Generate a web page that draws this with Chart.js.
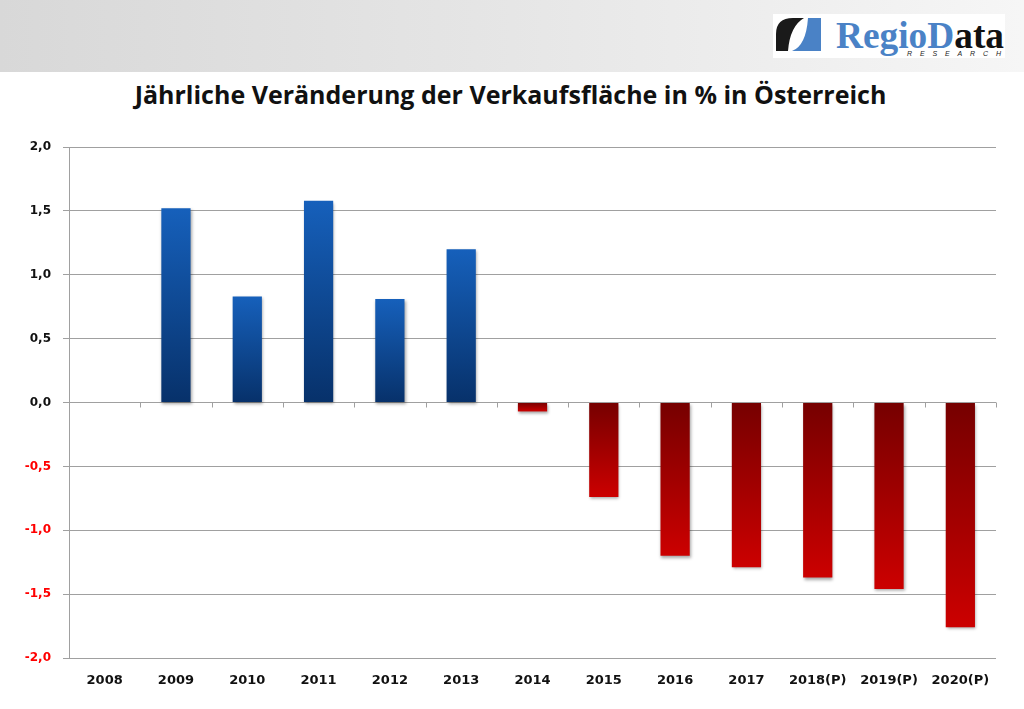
<!DOCTYPE html>
<html>
<head>
    <title>Jährliche Veränderung der Verkaufsfläche</title>
    <script src="https://cdn.jsdelivr.net/npm/chart.js"></script>
    <style>
        body { margin: 0; width: 1024px; height: 709px; overflow: hidden; background: #fff; position: relative; }
        #band { position: absolute; left: 0; top: 0; width: 1024px; height: 72px;
                background: linear-gradient(to right, #d8d8d8 0%, #e6e6e6 50%, #f6f6f6 100%); }
        #logo { position: absolute; left: 773px; top: 14px; width: 232px; height: 44px; background: #fff; }
        #title { position: absolute; left: 0; width: 1021px; top: 77px; text-align: center;
                 font-family: "Open Sans", sans-serif; font-weight: 700; font-size: 25px; color: #111; }
        #wrap { position: absolute; left: 0; top: 0; width: 1024px; height: 709px; }
    </style>
</head>
<body>
    <div id="band"></div>
    <div id="logo">
        <svg width="232" height="44" viewBox="0 0 232 44">
            <path d="M3 37 L3 20 Q3 4 20 4 L31 4 Q17 12 15 37 Z" fill="#1a1a1a"/>
            <path d="M35 4 L48 4 L48 37 L19 37 Q33 32 35 4 Z" fill="#4a82c6"/>
            <text x="63" y="34" font-family="Liberation Serif, serif" font-size="38" font-weight="bold"
                  textLength="168" lengthAdjust="spacingAndGlyphs"><tspan fill="#4a82c6">RegioD</tspan><tspan fill="#111">ata</tspan></text>
            <text x="134" y="42" font-family="Liberation Sans, sans-serif" font-size="7" font-style="italic"
                  fill="#222" textLength="94" lengthAdjust="spacing">RESEARCH</text>
        </svg>
    </div>
    <div id="title">Jährliche Veränderung der Verkaufsfläche in % in Österreich</div>
    <div id="wrap"><canvas id="myChart" width="1024" height="709"></canvas></div>
    <script>
        // Werte
        const years = ['2008', '2009', '2010', '2011', '2012', '2013', '2014', '2015', '2016', '2017', '2018(P)', '2019(P)', '2020(P)'];
        const changes = [0, 1.52, 0.83, 1.58, 0.81, 1.20, -0.07, -0.74, -1.20, -1.29, -1.37, -1.46, -1.76];
        const yTicks = [2.0, 1.5, 1.0, 0.5, 0.0, -0.5, -1.0, -1.5, -2.0];

        function barFill(context) {
            const chart = context.chart;
            const v = context.raw;
            const y = chart.scales.y;
            if (!chart.chartArea || !y) return v >= 0 ? '#1257a8' : '#a80000';
            const p0 = y.getPixelForValue(0);
            const p1 = y.getPixelForValue(v);
            if (Math.abs(p1 - p0) < 1) return v >= 0 ? '#1257a8' : '#c40000';
            const g = chart.ctx.createLinearGradient(0, Math.min(p0, p1), 0, Math.max(p0, p1));
            if (v >= 0) {
                g.addColorStop(0, '#1660bb');
                g.addColorStop(1, '#07316a');
            } else {
                g.addColorStop(0, '#760000');
                g.addColorStop(1, '#cc0000');
            }
            return g;
        }

        // kleine Striche an der Nulllinie zwischen den Kategorien
        const zeroTicks = {
            id: 'zeroTicks',
            afterDatasetsDraw(chart) {
                const ctx = chart.ctx;
                const x = chart.scales.x;
                const y0 = chart.scales.y.getPixelForValue(0);
                const step = (chart.chartArea.right - chart.chartArea.left) / years.length;
                ctx.save();
                ctx.strokeStyle = '#a0a0a0';
                ctx.lineWidth = 1;
                for (let i = 0; i <= years.length; i++) {
                    const px = Math.round(x.getPixelForValue(0) - step / 2 + i * step) + 0.5;
                    ctx.beginPath();
                    ctx.moveTo(px, y0);
                    ctx.lineTo(px, y0 + 5);
                    ctx.stroke();
                }
                ctx.restore();
            }
        };

        const barShadow = {
            id: 'barShadow',
            beforeDatasetsDraw(chart) {
                const ctx = chart.ctx;
                ctx.save();
                ctx.shadowColor = 'rgba(0,0,0,0.35)';
                ctx.shadowBlur = 3;
                ctx.shadowOffsetX = 1;
                ctx.shadowOffsetY = 2;
            },
            afterDatasetsDraw(chart) {
                chart.ctx.restore();
            }
        };

        const ctx = document.getElementById('myChart').getContext('2d');
        const myChart = new Chart(ctx, {
            type: 'bar',
            data: {
                labels: years,
                datasets: [{
                    label: 'Veränderung in %',
                    data: changes,
                    backgroundColor: barFill,
                    borderWidth: 0,
                    barPercentage: 0.41,
                    categoryPercentage: 1.0
                }]
            },
            options: {
                responsive: false,
                animation: false,
                layout: { padding: { left: 0, right: 28, top: 147, bottom: 0 } },
                plugins: {
                    legend: { display: false },
                    tooltip: { enabled: false }
                },
                scales: {
                    x: {
                        afterFit(scale) { scale.height = 51; },
                        grid: { display: false },
                        border: { display: false },
                        ticks: {
                            color: '#111',
                            padding: 7,
                            maxRotation: 0,
                            autoSkip: false,
                            font: { family: 'DejaVu Sans', weight: 'bold', size: 13 }
                        }
                    },
                    y: {
                        min: -2,
                        max: 2,
                        afterFit(scale) { scale.width = 69; },
                        afterBuildTicks(scale) { scale.ticks = yTicks.map(v => ({ value: v })); },
                        grid: { color: '#a0a0a0', lineWidth: 1, tickLength: 6 },
                        border: { display: true, color: '#a0a0a0' },
                        ticks: {
                            padding: 12,
                            callback: v => v.toFixed(1).replace('.', ','),
                            color: c => c.tick.value < 0 ? '#ff0000' : '#111',
                            font: { family: 'DejaVu Sans', weight: 'bold', size: 12 }
                        }
                    }
                }
            },
            plugins: [barShadow, zeroTicks]
        });
    </script>
</body>
</html>
